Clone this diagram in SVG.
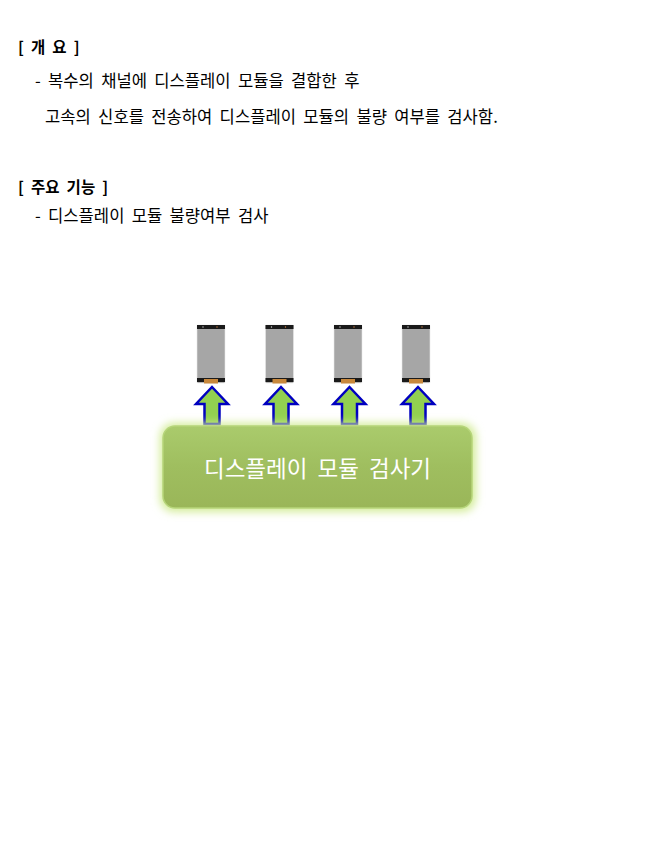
<svg xmlns="http://www.w3.org/2000/svg" width="660" height="868" viewBox="0 0 660 868">
<defs>
<style>
.t{font-family:"Malgun Gothic","Noto Sans CJK KR","Noto Sans",sans-serif;font-size:16.6px;fill:#000;word-spacing:3.6px}
.h{font-weight:bold;font-size:15.5px}
.lbl{font-family:"Noto Sans CJK KR","Noto Sans",sans-serif;font-size:22.5px;fill:#fff;word-spacing:5px}
.arrow{fill:#92d050;stroke:#0000c0;stroke-width:2.5;stroke-linejoin:miter}
.body{fill:#a6a6a6;stroke:#e8e8e8;stroke-width:0.6}
.bez{fill:#1a1a1a}
.con{fill:#c8883c}
</style>
<linearGradient id="boxg" x1="0" y1="0" x2="0" y2="1">
<stop offset="0" stop-color="#aacb6c"/>
<stop offset="0.5" stop-color="#9fbe5f"/>
<stop offset="1" stop-color="#9ab659"/>
</linearGradient>
<filter id="glow" x="-20%" y="-30%" width="140%" height="160%">
<feGaussianBlur stdDeviation="4"/>
</filter>
<g id="phone">
<rect class="body" x="-14" y="325" width="28" height="58" rx="1"/>
<rect class="bez" x="-14" y="325" width="28" height="4"/>
<circle cx="-8" cy="327" r="0.7" fill="#ccc"/>
<circle cx="6" cy="327" r="0.7" fill="#d08040"/>
<rect class="bez" x="-14" y="378" width="28" height="4"/>
<rect class="con" x="-7" y="379" width="14" height="4.5"/>
</g>
<path id="arr" class="arrow" d="M0,387 L16,404 L7.5,404 L7.5,424 L-7.5,424 L-7.5,404 L-16,404 Z"/>
</defs>
<rect width="660" height="868" fill="#fff"/>

<g id="overview">
<text class="t h" x="18" y="53">[ 개 요 ]</text>
<text class="t" x="35" y="87">- 복수의 채널에 디스플레이 모듈을 결합한 후</text>
<text class="t" x="45" y="123">고속의 신호를 전송하여 디스플레이 모듈의 불량 여부를 검사함.</text>
</g>
<g id="features">
<text class="t h" x="18" y="193">[ 주요 기능 ]</text>
<text class="t" x="35" y="222">- 디스플레이 모듈 불량여부 검사</text>
</g>

<g id="phones">
<use href="#phone" x="211"/>
<use href="#phone" x="279.5"/>
<use href="#phone" x="348"/>
<use href="#phone" x="416"/>
</g>

<g id="connectors">
<use href="#arr" x="212"/>
<use href="#arr" x="281"/>
<use href="#arr" x="349.5"/>
<use href="#arr" x="418"/>
</g>

<g id="inspector">
<rect x="160" y="423" width="316" height="89" rx="14" fill="#d3ec98" filter="url(#glow)"/>
<rect x="163" y="426" width="309" height="82" rx="12" fill="url(#boxg)" stroke="#b6d57a" stroke-width="1.5"/>
<text class="lbl" x="317.5" y="477" text-anchor="middle">디스플레이 모듈 검사기</text>
</g>
</svg>
